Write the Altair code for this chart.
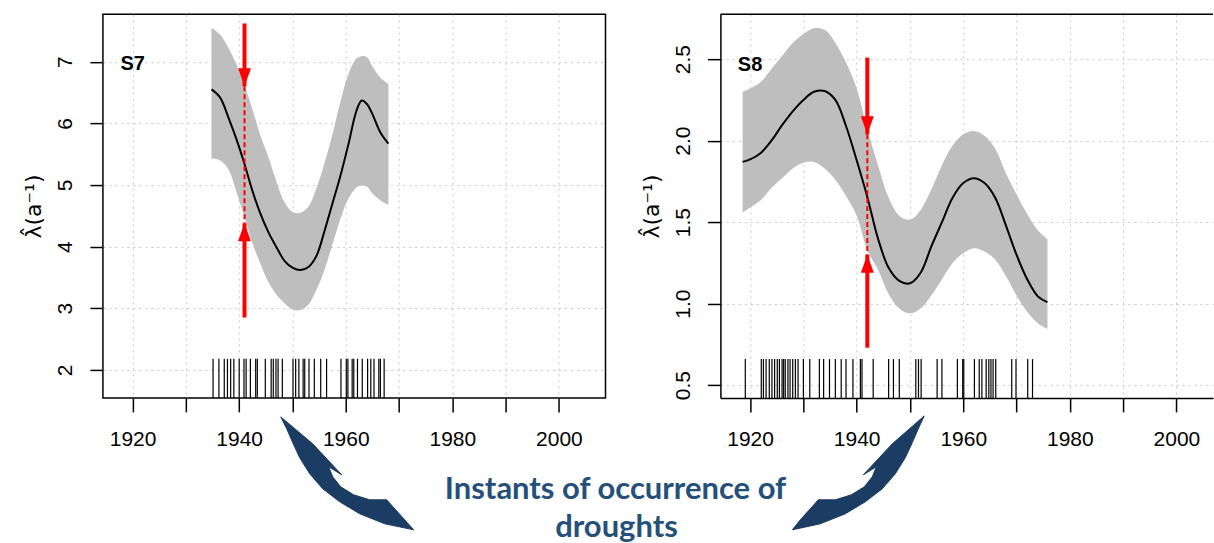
import altair as alt
import pandas as pd

# ---------------- data ----------------
# Panel S7
s7_year = [1934.8, 1936.4, 1938.0, 1939.5, 1941.0, 1942.5, 1944.0, 1945.5, 1947.0, 1948.5,
           1950.0, 1951.5, 1953.0, 1954.5, 1956.0, 1957.5, 1959.0, 1960.5, 1962.0, 1963.0,
           1964.0, 1965.0, 1966.5, 1968.0]
s7_mean = [6.55, 6.42, 6.09, 5.74, 5.34, 4.90, 4.53, 4.23, 3.99, 3.77,
           3.66, 3.62, 3.67, 3.85, 4.25, 4.70, 5.15, 5.66, 6.20, 6.37,
           6.31, 6.15, 5.85, 5.67]
s7_upper = [7.55, 7.44, 7.22, 6.95, 6.62, 6.22, 5.80, 5.45, 5.05, 4.72,
            4.56, 4.55, 4.65, 4.95, 5.35, 5.82, 6.35, 6.80, 7.05, 7.09,
            7.07, 6.92, 6.74, 6.64]
s7_lower = [5.43, 5.40, 5.25, 4.88, 4.48, 4.05, 3.72, 3.42, 3.22, 3.08,
            2.98, 2.97, 3.06, 3.30, 3.62, 4.04, 4.45, 4.78, 4.96, 4.99,
            4.97, 4.86, 4.75, 4.68]
s7_droughts = [1935.1, 1936.2, 1937.2, 1937.8, 1938.4, 1939.0, 1940.0, 1940.9, 1941.3, 1942.1,
               1943.1, 1943.4, 1944.9, 1946.0, 1946.4, 1946.9, 1947.3, 1948.1, 1950.1, 1950.6,
               1951.2, 1952.0, 1952.3, 1953.1, 1954.1, 1955.3, 1956.4, 1959.1, 1960.1, 1960.4,
               1961.2, 1961.5, 1962.2, 1963.1, 1964.1, 1964.7, 1965.3, 1966.2, 1966.5, 1967.2]
s7_yticks = [2, 3, 4, 5, 6, 7]
s7_arrow = {"x": 1941.0, "top_start": 7.62, "top_tip": 6.60, "bot_start": 2.85, "bot_tip": 4.38}

# Panel S8
s8_year = [1918.6, 1920, 1922, 1924, 1926, 1928, 1930, 1932, 1934, 1936,
           1938, 1940, 1942, 1944, 1946, 1948, 1950, 1952, 1954, 1956,
           1958, 1960, 1962, 1964, 1966, 1968, 1970, 1972, 1974, 1975.8]
s8_mean = [1.87, 1.885, 1.925, 2.00, 2.095, 2.18, 2.25, 2.30, 2.305, 2.25,
           2.09, 1.88, 1.655, 1.40, 1.22, 1.14, 1.125, 1.19, 1.35, 1.50,
           1.65, 1.74, 1.77, 1.74, 1.65, 1.48, 1.30, 1.15, 1.045, 1.01]
s8_upper = [2.30, 2.32, 2.36, 2.44, 2.52, 2.60, 2.655, 2.69, 2.68, 2.60,
            2.48, 2.32, 2.07, 1.85, 1.65, 1.54, 1.515, 1.575, 1.70, 1.85,
            1.97, 2.04, 2.06, 2.03, 1.95, 1.80, 1.67, 1.55, 1.45, 1.395]
s8_lower = [1.558, 1.59, 1.635, 1.71, 1.77, 1.83, 1.865, 1.87, 1.83, 1.76,
            1.66, 1.54, 1.33, 1.21, 1.06, 0.97, 0.94, 0.97, 1.05, 1.15,
            1.25, 1.31, 1.34, 1.32, 1.27, 1.17, 1.05, 0.95, 0.88, 0.846]
s8_droughts = [1919.1, 1922.1, 1922.5, 1923.0, 1923.6, 1924.1, 1924.6, 1925.1, 1925.5, 1926.0,
               1926.3, 1926.6, 1927.1, 1927.5, 1928.0, 1928.5, 1929.0, 1930.0, 1931.2, 1933.0,
               1933.8, 1934.9, 1936.0, 1937.1, 1938.0, 1939.3, 1940.7, 1941.0, 1943.1, 1946.0,
               1946.9, 1948.0, 1951.1, 1951.6, 1952.1, 1955.1, 1956.0, 1958.9, 1959.9, 1960.1,
               1962.1, 1963.0, 1963.5, 1964.3, 1964.8, 1965.2, 1965.6, 1966.1, 1969.1, 1969.9,
               1972.1, 1973.0]
s8_yticks = [0.5, 1.0, 1.5, 2.0, 2.5]
s8_arrow = {"x": 1942.0, "top_start": 2.51, "top_tip": 2.04, "bot_start": 0.73, "bot_tip": 1.30}

x_ticks = [1920, 1930, 1940, 1950, 1960, 1970, 1980, 1990, 2000]
y_title = "λ̂(a⁻¹)"

# bottom annotation (decorative curved arrows + caption), in page-pixel-like canvas units
caption_lines = ["Instants of occurrence of", "droughts"]
caption_x = [616, 617]
caption_y = [498, 536]
left_arrow_x = [281, 287, 293, 300, 310, 323, 340, 360, 385, 414,
                405, 396, 387, 370, 354, 341, 333, 329, 342, 313]
left_arrow_y = [416, 428, 442, 457, 473, 488, 501, 513, 523, 529,
                519, 509, 499, 499, 494, 486, 476, 466, 474, 443]
right_arrow_x = [925, 919, 913, 906, 896, 883, 866, 846, 821, 793,
                 801, 810, 819, 836, 852, 865, 873, 877, 864, 893]
right_arrow_y = [415, 428, 442, 457, 473, 488, 501, 513, 523, 529,
                 519, 509, 499, 499, 494, 486, 476, 466, 474, 443]

FONT = "Liberation Sans"
RED = "#FF0000"
NAVY = "#1B3D63"
CAPTION = "#24507A"
INTERP = "catmull-rom"


def make_panel(years, mean, lower, upper, droughts, yticks, yfmt, xdom, ydom,
               rug_top, arrow, label, label_y, framed):
    xs = alt.Scale(domain=xdom, nice=False, zero=False)
    ys = alt.Scale(domain=ydom, nice=False, zero=False)
    curve = pd.DataFrame({"year": years, "mean": mean, "lower": lower, "upper": upper})
    rug = pd.DataFrame({"year": droughts})
    arr = pd.DataFrame({"x": [arrow["x"]], "top_start": [arrow["top_start"]],
                        "top_tip": [arrow["top_tip"]], "bot_start": [arrow["bot_start"]],
                        "bot_tip": [arrow["bot_tip"]]})
    lab = pd.DataFrame({"x": [1920], "y": [label_y], "t": [label]})

    xaxis = alt.Axis(values=x_ticks, format="d", title=None, grid=True,
                     labelExpr="datum.value % 20 == 0 ? datum.label : ''",
                     tickSize=14, labelPadding=17, labelOverlap=False, labelFlush=False,
                     domain=not framed, domainColor="black", domainWidth=1.5)
    yaxis = alt.Axis(values=yticks, format=yfmt, title=y_title, grid=True,
                     labelAngle=-90, labelAlign="center", labelBaseline="alphabetic",
                     tickSize=13, labelPadding=18, titlePadding=9, labelOverlap=False,
                     labelFlush=False,
                     domain=not framed, domainColor="black", domainWidth=1.5)

    band = alt.Chart(curve).mark_area(color="#BEBEBE", interpolate=INTERP, opacity=1).encode(
        x=alt.X("year:Q", scale=xs, axis=xaxis),
        y=alt.Y("lower:Q", scale=ys, axis=yaxis),
        y2="upper:Q",
    )
    line = alt.Chart(curve).mark_line(color="black", strokeWidth=2, interpolate=INTERP).encode(
        x=alt.X("year:Q", scale=xs), y=alt.Y("mean:Q", scale=ys))
    rugs = alt.Chart(rug).mark_rule(color="black", strokeWidth=1.2).encode(
        x=alt.X("year:Q", scale=xs), y=alt.datum(ydom[0]), y2=alt.datum(rug_top))
    dashed = alt.Chart(arr).mark_rule(color=RED, strokeWidth=2, strokeDash=[5, 3]).encode(
        x=alt.X("x:Q", scale=xs), y=alt.Y("top_tip:Q", scale=ys), y2="bot_tip:Q")
    top_shaft = alt.Chart(arr).mark_rule(color=RED, strokeWidth=4).encode(
        x=alt.X("x:Q", scale=xs), y=alt.Y("top_start:Q", scale=ys), y2="top_tip:Q")
    bot_shaft = alt.Chart(arr).mark_rule(color=RED, strokeWidth=4).encode(
        x=alt.X("x:Q", scale=xs), y=alt.Y("bot_start:Q", scale=ys), y2="bot_tip:Q")
    top_head = alt.Chart(arr).mark_point(
        shape="M-0.72,-1L0.72,-1L0,1Z", size=324, filled=True, color=RED, opacity=1,
        strokeWidth=0, yOffset=-9).encode(
        x=alt.X("x:Q", scale=xs), y=alt.Y("top_tip:Q", scale=ys))
    bot_head = alt.Chart(arr).mark_point(
        shape="M-0.72,1L0.72,1L0,-1Z", size=324, filled=True, color=RED, opacity=1,
        strokeWidth=0, yOffset=9).encode(
        x=alt.X("x:Q", scale=xs), y=alt.Y("bot_tip:Q", scale=ys))
    text = alt.Chart(lab).mark_text(font=FONT, fontSize=20, fontWeight="bold", color="black",
                                    align="center", baseline="middle").encode(
        x=alt.X("x:Q", scale=xs), y=alt.Y("y:Q", scale=ys), text="t:N")

    layers = [band, line, rugs, dashed, top_shaft, bot_shaft, top_head, bot_head, text]
    if not framed:
        top = alt.Chart(pd.DataFrame({"a": [0]})).mark_rule(color="black", strokeWidth=1.5).encode(
            x=alt.datum(xdom[0]), x2=alt.datum(xdom[1]), y=alt.datum(ydom[1]))
        layers.append(top)
    return alt.layer(*layers)


left_main = make_panel(s7_year, s7_mean, s7_lower, s7_upper, s7_droughts, s7_yticks, "d",
                       [1914.43, 2008.74], [1.546, 7.77], 2.18, s7_arrow, "S7", 6.97, True)
right = make_panel(s8_year, s8_mean, s8_lower, s8_upper, s8_droughts, s8_yticks, ".1f",
                   [1914.43, 2006.87], [0.422, 2.776], 0.66, s8_arrow, "S8", 2.465, False
                   ).properties(width=493, height=384, view=alt.ViewBackground(stroke=None))

# annotation layer (own scales, drawn below the left panel without clipping)
arrows = pd.DataFrame({
    "px": left_arrow_x + right_arrow_x,
    "py": left_arrow_y + right_arrow_y,
    "i": list(range(len(left_arrow_x))) + list(range(len(right_arrow_x))),
    "arrow": ["L"] * len(left_arrow_x) + ["R"] * len(right_arrow_x),
})
cap = pd.DataFrame({"px": caption_x, "py": caption_y, "t": caption_lines})
ax = alt.Scale(domain=[103, 606], nice=False, zero=False)
ay = alt.Scale(domain=[13, 397], nice=False, zero=False, reverse=True)
arrow_marks = alt.Chart(arrows).mark_line(
    filled=True, fill=NAVY, stroke=NAVY, strokeWidth=1, strokeJoin="round",
    interpolate="linear-closed").encode(
    x=alt.X("px:Q", scale=ax, axis=None), y=alt.Y("py:Q", scale=ay, axis=None),
    order="i:Q", detail="arrow:N")
caption = alt.Chart(cap).mark_text(font="Lato", fontWeight="bold", fontSize=31, color=CAPTION,
                                   align="center", baseline="alphabetic").encode(
    x=alt.X("px:Q", scale=ax, axis=None), y=alt.Y("py:Q", scale=ay, axis=None), text="t:N")
annot = alt.layer(arrow_marks, caption)

left = alt.layer(left_main, annot).resolve_scale(x="independent", y="independent").properties(
    width=503, height=384)

chart = alt.hconcat(left, right, spacing=115, bounds="flush").properties(
    padding={"left": 22, "top": 13, "right": 0, "bottom": 0},
    background="white",
).configure_view(stroke="black", strokeWidth=1.5).configure_axis(
    labelFont=FONT, labelFontSize=21, labelColor="black",
    titleFont="DejaVu Sans", titleFontSize=22, titleFontWeight="normal", titleColor="black",
    tickColor="black", tickWidth=1.5,
    gridColor="#C8C8C8", gridDash=[2, 4], gridWidth=1,
)

chart.save("out.html", embed_options={"renderer": "svg", "actions": False})
